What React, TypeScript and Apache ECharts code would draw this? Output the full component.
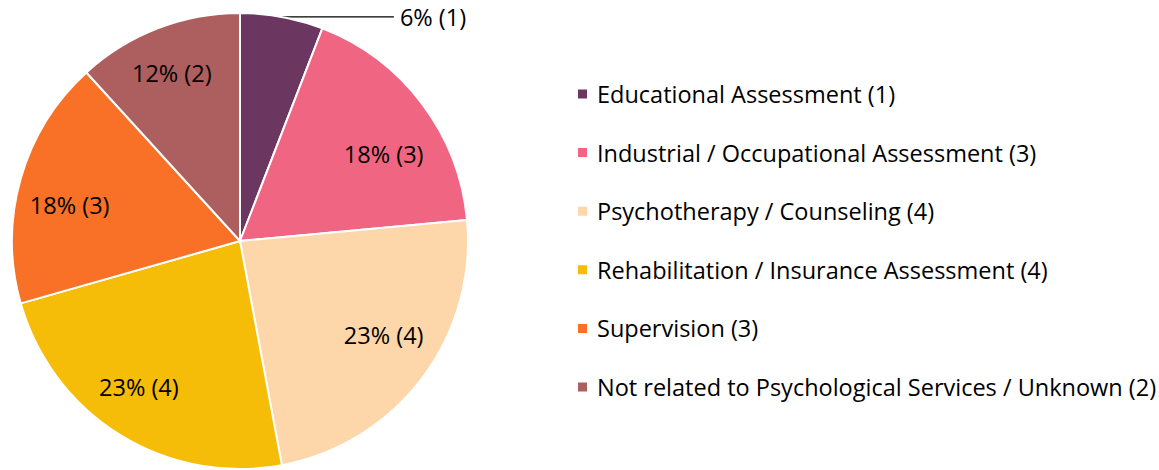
import React, { useEffect, useRef } from "react";
import * as echarts from "echarts";

const categories = [
  "Educational Assessment (1)",
  "Industrial / Occupational Assessment (3)",
  "Psychotherapy / Counseling (4)",
  "Rehabilitation / Insurance Assessment (4)",
  "Supervision (3)",
  "Not related to Psychological Services / Unknown (2)",
];
const counts = [1, 3, 4, 4, 3, 2];
const percentLabels = ["6%", "18%", "23%", "23%", "18%", "12%"];
const colors = ["#6B3660", "#F06682", "#FDD6A9", "#F5BC08", "#F97127", "#AD5E5E"];

// label nudges (layout only) to mimic the original label placement
const labelNudgeX = [0, 4, 4, -9, -2, -5];
const labelNudgeY = [0, 18, -11, -3, 12, -5];

const FONT = "Open Sans";
const FS = 23.5;

export default function App() {
  const ref = useRef<HTMLDivElement>(null);
  useEffect(() => {
    document.body.style.margin = "0";
    const chart = echarts.init(ref.current!, undefined, { renderer: "svg" });
    const labelText = (i: number) => `${percentLabels[i]} (${counts[i]})`;
    chart.setOption({
      animation: false,
      color: colors,
      legend: {
        orient: "vertical",
        left: 571,
        top: 77,
        itemWidth: 11,
        itemHeight: 11,
        itemGap: 34.6,
        icon: "rect",
        data: categories,
        textStyle: {
          fontFamily: FONT,
          fontSize: FS,
          lineHeight: 23,
          color: "#000",
          padding: [0, 0, 0, 4],
        },
      },
      series: [
        {
          type: "pie",
          center: [240, 241],
          radius: [0, 228],
          startAngle: 90,
          clockwise: true,
          itemStyle: { borderColor: "#fff", borderWidth: 2 },
          label: { show: false },
          labelLine: { show: false },
          emphasis: { disabled: true },
          data: categories.map((name, i) => ({
            name,
            value: counts[i],
            label:
              i === 0
                ? {
                    show: true,
                    position: "outside",
                    formatter: () => labelText(i),
                    fontFamily: FONT,
                    fontSize: FS,
                    color: "#000",
                    distanceToLabelLine: 6,
                  }
                : { show: false },
            labelLine:
              i === 0
                ? { show: true, length: 0, length2: 112, lineStyle: { color: "#000", width: 1.2 } }
                : { show: false },
          })),
        },
        {
          type: "pie",
          center: [240, 241],
          radius: [116, 228],
          startAngle: 90,
          clockwise: true,
          silent: true,
          legendHoverLink: false,
          itemStyle: { color: "transparent", borderWidth: 0 },
          emphasis: { disabled: true },
          label: {
            show: true,
            position: "inside",
            fontFamily: FONT,
            fontSize: FS,
            color: "#000",
            formatter: (p: any) => labelText(p.dataIndex),
          },
          labelLayout: (p: any) => ({
            dx: labelNudgeX[p.dataIndex],
            dy: labelNudgeY[p.dataIndex],
          }),
          labelLine: { show: false },
          data: categories.map((name, i) => ({
            name: name + " ",
            value: counts[i],
            label: i === 0 ? { show: false } : undefined,
          })),
        },
      ],
    });
    return () => chart.dispose();
  }, []);
  return <div ref={ref} style={{ width: 1159, height: 470 }} />;
}
